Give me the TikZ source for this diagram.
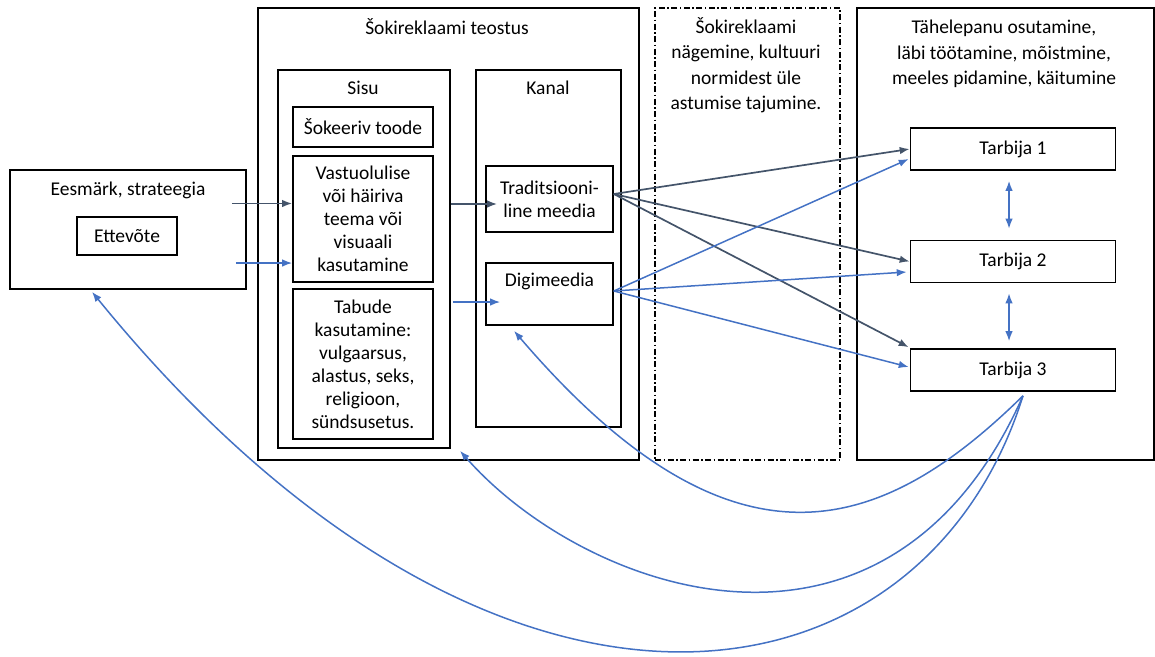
\documentclass[tikz,border=0pt]{standalone}
\usepackage{fontspec}
\setmainfont{Carlito}
\usepackage{tikz}
\usetikzlibrary{arrows.meta}

\definecolor{darkline}{HTML}{44546A}
\definecolor{blueline}{HTML}{4472C4}

\tikzset{
    box/.style={draw, line width=1.6pt, inner sep=0pt, align=center},
    txt/.style={inner sep=0pt, align=center},
    wide/.style={font=\fontsize{19.5}{25.5}\selectfont},
    darkarrow/.style={draw=darkline, line width=1.7pt, ->},
    bluearrow/.style={draw=blueline, line width=1.5pt, ->},
}

\begin{document}
\begin{tikzpicture}[x=1pt, y=-1pt, >={Latex[length=10pt,width=7.5pt]},
    font=\fontsize{19.5}{23}\selectfont]
    \useasboundingbox (0,0) rectangle (1155,656);

    % eesmark
    \node[box, minimum width=236, minimum height=119] (goal) at (128,229.5) {};
    \node[txt] (goaltitle) at (128,190) {Eesmärk, strateegia};
    \node[box, minimum width=100, minimum height=38] (firm) at (127,236) {Ettevõte};

    % teostus
    \node[box, minimum width=381, minimum height=452] (teostus) at (448.5,234) {};
    \node[txt] (teostustitle) at (447,27) {Šokireklaami teostus};
    \node[box, minimum width=172, minimum height=378] (sisu) at (364,259) {};
    \node[txt] (sisutitle) at (363,88) {Sisu};
    \node[box, minimum width=140, minimum height=40] (product) at (363,127) {Šokeeriv toode};
    \node[box, minimum width=140, minimum height=126] (theme) at (363,219)
        {Vastuolulise\\või häiriva\\teema või\\visuaali\\kasutamine};
    \node[box, minimum width=140, minimum height=150] (taboo) at (363,364)
        {Tabude\\kasutamine:\\vulgaarsus,\\alastus, seks,\\religioon,\\sündsusetus.};
    \node[box, minimum width=145, minimum height=357] (kanal) at (548.5,248.5) {};
    \node[txt] (kanaltitle) at (548,88) {Kanal};
    \node[box, minimum width=127, minimum height=66] (trad) at (549.5,199) {Traditsiooni-\\line meedia};
    \node[box, minimum width=127, minimum height=62] (digi) at (549.5,294) {};
    \node[txt] (digititle) at (549.5,281) {Digimeedia};

    % nagemine
    \node[box, line width=1.3pt, dash pattern=on 6pt off 2.5pt on 1.5pt off 2.5pt,
        minimum width=185, minimum height=452] (seeing) at (747.5,234) {};
    \node[txt, wide] (seeingtitle) at (746,65)
        {Šokireklaami\\nägemine, kultuuri\\normidest üle\\astumise tajumine.};

    % tarbijad
    \node[box, minimum width=297, minimum height=452] (effect) at (1005.5,234) {};
    \node[txt, wide] (effecttitle) at (1004,54)
        {Tähelepanu osutamine,\\läbi töötamine, mõistmine,\\meeles pidamine, käitumine};
    \node[box, minimum width=205, minimum height=42] (t1) at (1013,149) {Tarbija 1};
    \node[box, minimum width=205, minimum height=42] (t2) at (1013,261.5) {Tarbija 2};
    \node[box, minimum width=205, minimum height=42] (t3) at (1013,370) {Tarbija 3};

    % sisend
    \draw[darkarrow] ([shift={(-15,-26)}]goal.east) -- ([shift={(0,-15.5)}]theme.west);
    \draw[bluearrow] ([shift={(-11,33.5)}]goal.east) -- ([shift={(0,44)}]theme.west);
    \draw[darkarrow] ([shift={(0,-55)}]sisu.east) -- ([shift={(12,5)}]trad.west);
    \draw[bluearrow] ([shift={(2,43)}]sisu.east) -- ([shift={(15,8)}]digi.west);

    % kanalist tarbijani
    \draw[darkarrow] ([shift={(0,-5)}]trad.east) -- (t1.west);
    \draw[darkarrow] ([shift={(0,-5)}]trad.east) -- (t2.west);
    \draw[darkarrow] ([shift={(0,-5)}]trad.east) -- ([shift={(-1,-1)}]t3.north west);
    \draw[bluearrow] ([shift={(0,-3)}]digi.east) -- ([shift={(-1,10)}]t1.west);
    \draw[bluearrow] ([shift={(0,-3)}]digi.east) -- ([shift={(-3,10.5)}]t2.west);
    \draw[bluearrow] ([shift={(0,-3)}]digi.east) -- ([shift={(-1,-3)}]t3.west);

    % tarbijate vahel
    \draw[bluearrow, <->] ([shift={(-4,10)}]t1.south) -- ([shift={(-4,-11)}]t2.north);
    \draw[bluearrow, <->] ([shift={(-4,10)}]t2.south) -- ([shift={(-4,-7)}]t3.north);

    % tagasiside
    \draw[bluearrow] ([shift={(10,4)}]t3.south) .. controls +(-139.5,137) and +(220.7,258) ..
        ([shift={(-35.5,5)}]digi.south);
    \draw[bluearrow] ([shift={(10,4)}]t3.south) .. controls +(-136,306) and +(124,141) ..
        ([shift={(11.5,-10)}]teostus.south);
    \draw[bluearrow] ([shift={(10,4)}]t3.south) .. controls +(-102,325) and +(402,494) ..
        ([shift={(-36,2)}]goal.south);
\end{tikzpicture}
\end{document}
